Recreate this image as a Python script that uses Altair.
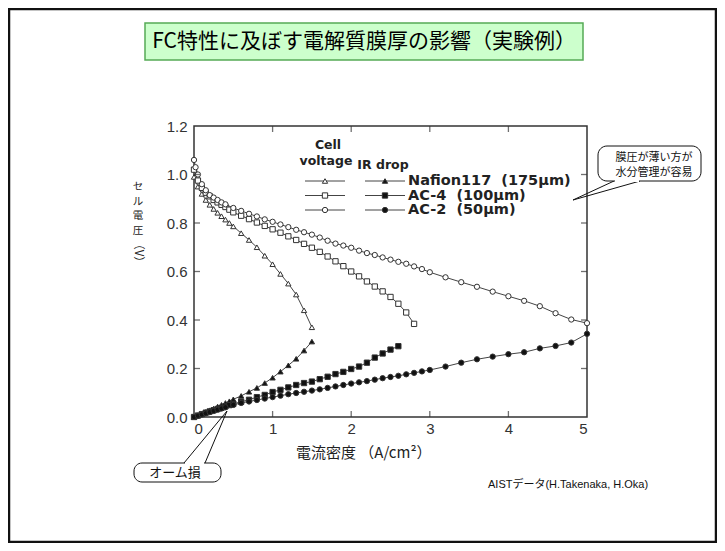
import altair as alt
import pandas as pd

# ---------------- data ----------------
membranes = ["Nafion117", "AC-4", "AC-2"]
legend_labels = ["Nafion117\u00a0\u00a0(175\u03bcm)", "AC-4\u00a0\u00a0(100\u03bcm)", "AC-2\u00a0\u00a0(50\u03bcm)"]
x_ticks = [0, 1, 2, 3, 4, 5]
y_ticks = [0.0, 0.2, 0.4, 0.6, 0.8, 1.0, 1.2]
inner_x_ticks = [1, 2, 3, 4]
inner_y_ticks = [0.2, 0.4, 0.6, 0.8, 1.0]

nafion_v_x = [0.0, 0.05, 0.1, 0.15, 0.2, 0.25, 0.3, 0.35, 0.4, 0.45, 0.5, 0.6, 0.7, 0.8, 0.9, 1.0, 1.1, 1.2, 1.3, 1.4, 1.5]
nafion_v_y = [0.99, 0.95, 0.92, 0.895, 0.875, 0.858, 0.842, 0.828, 0.814, 0.80, 0.786, 0.758, 0.73, 0.70, 0.665, 0.63, 0.59, 0.55, 0.505, 0.44, 0.37]

ac4_v_x = [0.0, 0.05, 0.1, 0.15, 0.2, 0.25, 0.3, 0.35, 0.4, 0.45, 0.5, 0.6, 0.7, 0.8, 0.9, 1.0, 1.1, 1.2, 1.3, 1.4,
           1.5, 1.6, 1.7, 1.8, 1.9, 2.0, 2.1, 2.2, 2.3, 2.4, 2.5, 2.6, 2.7, 2.8]
ac4_v_y = [1.02, 0.975, 0.945, 0.925, 0.91, 0.895, 0.885, 0.875, 0.866, 0.855, 0.844, 0.83, 0.816, 0.802, 0.788, 0.774, 0.76, 0.745, 0.73, 0.714,
           0.698, 0.681, 0.662, 0.642, 0.622, 0.60, 0.58, 0.559, 0.538, 0.518, 0.495, 0.467, 0.431, 0.384]

ac2_v_x = [0.0, 0.02, 0.05, 0.1, 0.15, 0.2, 0.25, 0.3, 0.35, 0.4, 0.5, 0.6, 0.7, 0.8, 0.9, 1.0, 1.1, 1.2, 1.3, 1.4,
           1.5, 1.6, 1.7, 1.8, 1.9, 2.0, 2.1, 2.2, 2.3, 2.4, 2.5, 2.6, 2.7, 2.8, 2.9, 3.0, 3.2, 3.4, 3.6, 3.8,
           4.0, 4.2, 4.4, 4.6, 4.8, 5.0]
ac2_v_y = [1.06, 1.03, 1.0, 0.96, 0.935, 0.915, 0.905, 0.895, 0.885, 0.877, 0.862, 0.85, 0.838, 0.827, 0.815, 0.805, 0.794, 0.783, 0.772, 0.762,
           0.752, 0.74, 0.727, 0.715, 0.707, 0.698, 0.686, 0.676, 0.668, 0.658, 0.649, 0.64, 0.632, 0.621, 0.61, 0.597, 0.576, 0.556, 0.537, 0.517,
           0.498, 0.479, 0.457, 0.428, 0.402, 0.387]

nafion_ir_x = [0.0, 0.05, 0.1, 0.15, 0.2, 0.25, 0.3, 0.35, 0.4, 0.45, 0.5, 0.6, 0.7, 0.8, 0.9, 1.0, 1.1, 1.2, 1.3, 1.4, 1.5]
nafion_ir_y = [0.0, 0.007, 0.014, 0.021, 0.028, 0.035, 0.043, 0.05, 0.058, 0.065, 0.073, 0.087, 0.104, 0.12, 0.14, 0.162, 0.187, 0.213, 0.24, 0.274, 0.311]

ac4_ir_x = [0.0, 0.05, 0.1, 0.15, 0.2, 0.25, 0.3, 0.35, 0.4, 0.45, 0.5, 0.6, 0.7, 0.8, 0.9, 1.0, 1.1, 1.2, 1.3, 1.4,
            1.5, 1.6, 1.7, 1.8, 1.9, 2.0, 2.1, 2.2, 2.3, 2.4, 2.5, 2.6]
ac4_ir_y = [0.0, 0.006, 0.012, 0.018, 0.023, 0.028, 0.033, 0.038, 0.044, 0.049, 0.054, 0.063, 0.071, 0.082, 0.091, 0.103, 0.112, 0.122, 0.132, 0.14,
            0.146, 0.156, 0.166, 0.177, 0.186, 0.198, 0.208, 0.224, 0.245, 0.262, 0.278, 0.292]

ac2_ir_x = [0.0, 0.05, 0.1, 0.15, 0.2, 0.25, 0.3, 0.35, 0.4, 0.5, 0.6, 0.7, 0.8, 0.9, 1.0, 1.1, 1.2, 1.3, 1.4,
            1.5, 1.6, 1.7, 1.8, 1.9, 2.0, 2.1, 2.2, 2.3, 2.4, 2.5, 2.6, 2.7, 2.8, 2.9, 3.0, 3.2, 3.4, 3.6, 3.8,
            4.0, 4.2, 4.4, 4.6, 4.8, 5.0]
ac2_ir_y = [0.0, 0.005, 0.01, 0.015, 0.02, 0.025, 0.03, 0.035, 0.04, 0.05, 0.058, 0.064, 0.07, 0.076, 0.082, 0.088, 0.094, 0.099, 0.104,
            0.109, 0.114, 0.12, 0.126, 0.132, 0.138, 0.143, 0.148, 0.154, 0.16, 0.165, 0.17, 0.176, 0.182, 0.188, 0.194, 0.208, 0.224, 0.238, 0.249,
            0.259, 0.267, 0.283, 0.293, 0.307, 0.343]

# ---------------- layout helpers ----------------
W, H = 393, 291          # plot area
X0, Y0 = 194, 126        # page position of the plot origin
FONT = "'Liberation Sans', Arial, 'Noto Sans CJK JP', sans-serif"
BFONT = "'DejaVu Sans', 'Liberation Sans', sans-serif"
JFONT = "'Noto Sans CJK JP', 'Liberation Sans', sans-serif"


def px(v):
    return v - X0


def py(v):
    return v - Y0


def series(name, kind, xs, ys):
    return pd.DataFrame({"x": xs, "y": ys, "membrane": name, "kind": kind, "sid": name + "_" + kind})


df = pd.concat([
    series("Nafion117", "cell", nafion_v_x, nafion_v_y),
    series("AC-4", "cell", ac4_v_x, ac4_v_y),
    series("AC-2", "cell", ac2_v_x, ac2_v_y),
    series("Nafion117", "ir", nafion_ir_x, nafion_ir_y),
    series("AC-4", "ir", ac4_ir_x, ac4_ir_y),
    series("AC-2", "ir", ac2_ir_x, ac2_ir_y),
], ignore_index=True)

xs = alt.Scale(domain=[0, 5], nice=False, zero=False)
ys = alt.Scale(domain=[0, 1.2], nice=False, zero=False)
shape_scale = alt.Scale(domain=membranes, range=["triangle-up", "square", "circle"])
fill_scale = alt.Scale(domain=["cell", "ir"], range=["white", "#111111"])

one = pd.DataFrame({"a": [0]})

# page frame
frame = alt.Chart(one).mark_rect(fill=None, stroke="#111", strokeWidth=2.5).encode(
    x=alt.value(px(9)), x2=alt.value(px(716)), y=alt.value(py(9)), y2=alt.value(py(542)))

# title box
title_box = alt.Chart(one).mark_rect(fill="#ccffcc", stroke="#55aa55", strokeWidth=1.5).encode(
    x=alt.value(px(145)), x2=alt.value(px(583)), y=alt.value(py(23)), y2=alt.value(py(60)))
title_text = alt.Chart(one).mark_text(
    text="FC特性に及ぼす電解質膜厚の影響（実験例）", font=JFONT, fontSize=21, color="#000",
    align="center", baseline="middle").encode(x=alt.value(px(364)), y=alt.value(py(42)))

lines = alt.Chart(df).mark_line(color="#444", strokeWidth=1).encode(
    x=alt.X("x:Q", scale=xs, title=None,
            axis=alt.Axis(values=x_ticks, format="d", labelPadding=4)),
    y=alt.Y("y:Q", scale=ys, title=None,
            axis=alt.Axis(values=y_ticks, format=".1f", labelPadding=7)),
    detail="sid:N",
    order="x:Q",
)

points = alt.Chart(df).mark_point(filled=True, stroke="#333", strokeWidth=1, size=28, opacity=1).encode(
    x=alt.X("x:Q", scale=xs, title=None),
    y=alt.Y("y:Q", scale=ys, title=None),
    shape=alt.Shape("membrane:N", scale=shape_scale, legend=None),
    fill=alt.Fill("kind:N", scale=fill_scale, legend=None),
)

tx = pd.DataFrame({"x": inner_x_ticks})
ty = pd.DataFrame({"y": inner_y_ticks})
tick_bottom = alt.Chart(tx).mark_tick(size=6, thickness=1.3, color="#333").encode(
    x=alt.X("x:Q", scale=xs, title=None), y=alt.value(H - 3))
tick_top = alt.Chart(tx).mark_tick(size=6, thickness=1.3, color="#333").encode(
    x=alt.X("x:Q", scale=xs, title=None), y=alt.value(3))
tick_left = alt.Chart(ty).mark_tick(size=6, thickness=1.3, color="#333").encode(
    y=alt.Y("y:Q", scale=ys, title=None), x=alt.value(3))
tick_right = alt.Chart(ty).mark_tick(size=6, thickness=1.3, color="#333").encode(
    y=alt.Y("y:Q", scale=ys, title=None), x=alt.value(W - 3))

# axis titles
x_title = alt.Chart(one).mark_text(text="電流密度 （A/cm²）", font=JFONT, fontSize=15, color="#222",
                                   align="left", baseline="middle").encode(
    x=alt.value(px(296)), y=alt.value(py(453)))
y_title = alt.Chart(one).mark_text(text=["セ", "ル", "電", "圧"], font=JFONT, fontSize=10.5, lineHeight=14.5,
                                   color="#222", align="center", baseline="top").encode(
    x=alt.value(px(138)), y=alt.value(py(182)))
y_title_v = alt.Chart(one).mark_text(text="（V）", font=JFONT, fontSize=11.5, color="#222", angle=90,
                                     align="center", baseline="middle").encode(
    x=alt.value(px(138)), y=alt.value(py(253)))

# legend (header + samples)
hdr_style = dict(font=BFONT, fontSize=12.5, fontWeight="bold", color="#222", align="center", baseline="middle")
leg_hdr = [
    alt.Chart(one).mark_text(text="Cell", **hdr_style).encode(x=alt.value(px(328)), y=alt.value(py(145))),
    alt.Chart(one).mark_text(text="voltage", **hdr_style).encode(x=alt.value(px(326)), y=alt.value(py(161))),
    alt.Chart(one).mark_text(text="IR drop", **hdr_style).encode(x=alt.value(px(383)), y=alt.value(py(165))),
]
leg_layers = []
row_y = [181, 195.5, 210]
for i, name in enumerate(membranes):
    yy = py(row_y[i])
    shp = ["triangle-up", "square", "circle"][i]
    leg_layers += [
        alt.Chart(one).mark_rule(color="#444", strokeWidth=1).encode(
            x=alt.value(px(305)), x2=alt.value(px(345)), y=alt.value(yy)),
        alt.Chart(one).mark_rule(color="#444", strokeWidth=1).encode(
            x=alt.value(px(365)), x2=alt.value(px(405)), y=alt.value(yy)),
        alt.Chart(one).mark_point(filled=True, fill="white", stroke="#333", strokeWidth=1, size=28, shape=shp, opacity=1).encode(
            x=alt.value(px(325)), y=alt.value(yy)),
        alt.Chart(one).mark_point(filled=True, fill="#111", stroke="#333", strokeWidth=1, size=28, shape=shp, opacity=1).encode(
            x=alt.value(px(385)), y=alt.value(yy)),
        alt.Chart(one).mark_text(text=legend_labels[i], font=BFONT, fontSize=14.5, fontWeight="bold", color="#222",
                                 align="left", baseline="middle").encode(
            x=alt.value(px(408)), y=alt.value(yy)),
    ]

# callout 1 (upper right)
c1 = [
    alt.Chart(one).mark_rule(color="#111", strokeWidth=1).encode(
        x=alt.value(px(614)), y=alt.value(py(181)), x2=alt.value(px(573)), y2=alt.value(py(200))),
    alt.Chart(one).mark_rule(color="#111", strokeWidth=1).encode(
        x=alt.value(px(640)), y=alt.value(py(181)), x2=alt.value(px(573)), y2=alt.value(py(200))),
    alt.Chart(one).mark_rect(fill="white", stroke="#111", strokeWidth=1, cornerRadius=9).encode(
        x=alt.value(px(598)), x2=alt.value(px(701)), y=alt.value(py(146)), y2=alt.value(py(181))),
    alt.Chart(one).mark_rule(color="white", strokeWidth=2).encode(
        x=alt.value(px(615)), x2=alt.value(px(639)), y=alt.value(py(181))),
    alt.Chart(one).mark_text(text=["膜圧が薄い方が", "水分管理が容易"], font=JFONT, fontSize=11, lineHeight=14.5,
                             color="#111", align="center", baseline="middle").encode(
        x=alt.value(px(654)), y=alt.value(py(158))),
]

# callout 2 (lower left)
c2 = [
    alt.Chart(one).mark_rule(color="#111", strokeWidth=1).encode(
        x=alt.value(px(184)), y=alt.value(py(463)), x2=alt.value(px(227)), y2=alt.value(py(411))),
    alt.Chart(one).mark_rule(color="#111", strokeWidth=1).encode(
        x=alt.value(px(205)), y=alt.value(py(463)), x2=alt.value(px(227)), y2=alt.value(py(411))),
    alt.Chart(one).mark_rect(fill="white", stroke="#111", strokeWidth=1, cornerRadius=8).encode(
        x=alt.value(px(134)), x2=alt.value(px(221)), y=alt.value(py(463)), y2=alt.value(py(482))),
    alt.Chart(one).mark_rule(color="white", strokeWidth=2).encode(
        x=alt.value(px(185)), x2=alt.value(px(204)), y=alt.value(py(463))),
    alt.Chart(one).mark_text(text="オーム損", font=JFONT, fontSize=13, color="#111",
                             align="center", baseline="middle").encode(
        x=alt.value(px(175)), y=alt.value(py(473))),
]

source = alt.Chart(one).mark_text(text="AISTデータ(H.Takenaka, H.Oka)", font=FONT, fontSize=11, color="#111",
                                  align="left", baseline="middle").encode(
    x=alt.value(px(488)), y=alt.value(py(485)))

chart = alt.layer(
    frame, title_box, title_text, lines, points,
    tick_bottom, tick_top, tick_left, tick_right,
    x_title, y_title, y_title_v, *leg_hdr, *leg_layers, *c1, *c2, source,
).properties(
    width=W, height=H,
    autosize=alt.AutoSizeParams(type="none"),
    padding={"left": X0 - 8, "top": Y0 - 8, "right": 709 - (X0 - 8) - W, "bottom": 535 - (Y0 - 8) - H},
    background="white",
).configure_view(
    stroke="#333", strokeWidth=1.5,
).configure_axis(
    domain=False, ticks=False, grid=False,
    labelFont=FONT, labelFontSize=15, labelColor="#333",
)

chart.save("out.html", embed_options={"renderer": "svg", "actions": False})
